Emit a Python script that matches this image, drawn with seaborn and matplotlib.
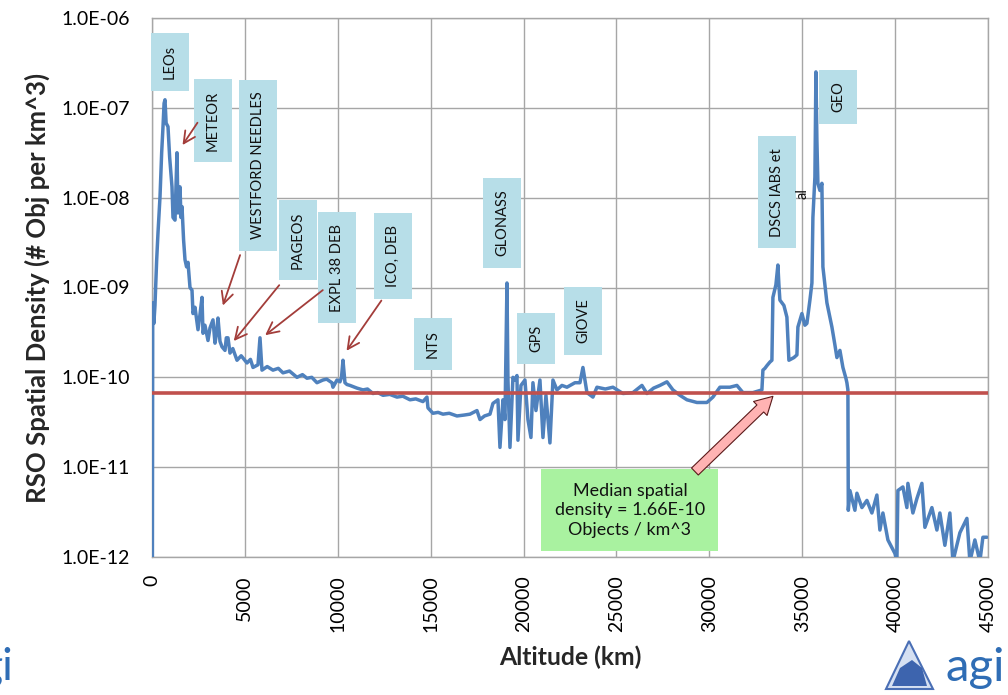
import numpy as np
import pandas as pd
import matplotlib
matplotlib.use("Agg")
import matplotlib.pyplot as plt
import seaborn as sns
from matplotlib.ticker import FixedLocator, FuncFormatter, NullLocator
from matplotlib.patches import FancyArrowPatch, Polygon

# ---------------- data ----------------
# LEO segment: altitude (km) and log10 of spatial density (# obj per km^3)
leo_alt = [0, 20, 40, 100, 160, 250, 323, 431, 520, 592, 650, 700, 760, 861,
           950, 1076, 1130, 1238, 1345, 1400, 1507, 1560, 1615, 1700, 1776,
           1860, 1938, 2045, 2153, 2207, 2314, 2476, 2583, 2691, 2745, 2850,
           3014, 3122, 3283, 3391, 3480, 3552, 3660, 3767, 3929, 4000, 4090,
           4198, 4350, 4575, 4800, 5113, 5300, 5436, 5705, 5813, 5920, 6200,
           6512, 6800, 7050, 7400, 7804, 8100, 8342, 8600, 8880, 9200, 9400,
           9687]
leo_log = [-12.3, -12.3, -9.17, -9.40, -9.20, -8.70, -8.39, -7.99, -7.50,
           -7.21, -6.95, -6.91, -7.17, -7.21, -7.55, -7.88, -8.22, -8.25,
           -7.50, -8.17, -7.88, -8.22, -8.10, -8.47, -8.69, -8.77, -8.72,
           -9.00, -9.03, -9.29, -9.22, -9.47, -9.30, -9.11, -9.51, -9.42,
           -9.59, -9.45, -9.36, -9.62, -9.50, -9.34, -9.60, -9.66, -9.70,
           -9.56, -9.56, -9.73, -9.68, -9.81, -9.76, -9.84, -9.80, -9.89,
           -9.86, -9.56, -9.92, -9.88, -9.92, -9.90, -9.95, -9.93, -10.00,
           -9.97, -10.01, -10.00, -10.06, -10.03, -10.02, -10.06]

# MEO segment
meo_alt = [9741, 9957, 10118, 10200, 10280, 10387, 10495, 10657, 11033,
           11356, 11600, 11894, 12150, 12432, 12800, 13186, 13500, 13886,
           14200, 14585, 14800, 14854, 15123, 15400, 15661, 16000, 16415,
           16800, 17115, 17492, 17654, 17900, 18192, 18353, 18622, 18730,
           18891, 18999, 19107, 19160, 19268, 19429, 19537, 19645, 19698,
           19860, 20075, 20236, 20398, 20505, 20667, 20882, 21044, 21205,
           21420, 21582, 21797, 22066, 22335, 22766, 23035, 23196, 23412,
           23734, 23950, 24400, 24811, 25349, 25887, 26372, 26641, 27000,
           27340, 27717, 28040, 28417, 28794, 29332, 29870, 30193, 30570,
           31108, 31485, 31808, 32346, 32830]
meo_log = [-10.11, -10.03, -10.05, -10.00, -9.81, -10.06, -10.08, -10.09,
           -10.12, -10.14, -10.13, -10.18, -10.17, -10.20, -10.19, -10.22,
           -10.21, -10.25, -10.24, -10.27, -10.22, -10.34, -10.40, -10.39,
           -10.41, -10.40, -10.43, -10.42, -10.41, -10.37, -10.47, -10.43,
           -10.41, -10.29, -10.25, -10.78, -10.25, -10.47, -8.95, -10.03,
           -10.78, -10.00, -10.03, -9.98, -10.70, -10.09, -10.03, -10.47,
           -10.67, -10.06, -10.37, -10.03, -10.67, -10.20, -10.73, -10.03,
           -10.14, -10.09, -10.11, -10.06, -10.06, -9.89, -10.17, -10.22,
           -10.11, -10.13, -10.11, -10.18, -10.17, -10.09, -10.18, -10.12,
           -10.09, -10.05, -10.14, -10.20, -10.25, -10.28, -10.28, -10.22,
           -10.11, -10.11, -10.09, -10.17, -10.17, -10.14]

# GEO segment
geo_alt = [32884, 32991, 33099, 33260, 33368, 33422, 33583, 33691, 33745,
           33798, 34014, 34175, 34283, 34552, 34714, 34768, 34983, 35144,
           35252, 35414, 35522, 35575, 35683, 35737, 35790, 35844, 35952,
           36059, 36113, 36329, 36598, 36760, 36867, 37029, 37190, 37351,
           37405, 37459, 37480]
geo_log = [-9.92, -9.90, -9.87, -9.83, -9.81, -9.11, -8.97, -8.75, -8.97,
           -9.14, -9.20, -9.33, -9.81, -9.78, -9.75, -9.44, -9.29, -9.42,
           -9.40, -9.14, -8.95, -8.22, -7.77, -6.60, -7.36, -7.84, -7.92,
           -7.84, -8.77, -9.17, -9.44, -9.64, -9.78, -9.70, -9.89, -10.01,
           -10.06, -10.14, -11.48]

# beyond-GEO segment
high_alt = [37567, 37836, 37944, 38213, 38482, 38750, 39019, 39181, 39343,
            39612, 39989, 40096, 40150, 40419, 40634, 40688, 40957, 41172,
            41441, 41603, 41980, 42249, 42410, 42679, 42948, 43110, 43487,
            43864, 44025, 44294, 44563, 44725, 44940]
high_log = [-11.26, -11.48, -11.29, -11.45, -11.37, -11.51, -11.31, -11.70,
            -11.51, -11.81, -11.96, -12.05, -11.26, -11.22, -11.45, -11.18,
            -11.51, -11.35, -11.18, -11.67, -11.45, -11.70, -11.51, -11.87,
            -11.51, -12.05, -11.73, -11.57, -12.05, -11.81, -12.05, -11.78,
            -11.78]

median_log10_density = -10.17

x_ticks = [0, 5000, 10000, 15000, 20000, 25000, 30000, 35000, 40000, 45000]
y_ticks = [1e-12, 1e-11, 1e-10, 1e-9, 1e-8, 1e-7, 1e-6]

labels = ["LEOs", "METEOR", "WESTFORD NEEDLES", "PAGEOS", "EXPL 38 DEB",
          "ICO, DEB", "NTS", "GLONASS", "GPS", "GIOVE", "DSCS IABS et", "GEO"]
label_alt = [969, 3283, 5705, 7858, 9957, 12971, 15123, 18837, 20667, 23196,
             33637, 36921]
label_log = [-6.49, -7.14, -7.64, -8.47, -8.78, -8.65, -9.63, -8.28, -9.57,
             -9.37, -7.94, -6.88]

# arrows: tail (alt, log) -> head (alt, log)
arrow_tail_alt = [2530, 4790, 6943, 9311, 12432]
arrow_tail_log = [-7.14, -8.61, -8.95, -9.01, -9.12]
arrow_head_alt = [1561, 3767, 4306, 5974, 10387]
arrow_head_log = [-7.44, -9.23, -9.62, -9.55, -9.73]

median_text = "Median spatial\ndensity = 1.66E-10\nObjects / km^3"

# ---------------- figure ----------------
sns.set_theme(style="whitegrid")
plt.rcParams["font.family"] = ["Lato", "DejaVu Sans"]

alt = leo_alt + meo_alt + geo_alt + high_alt
lg = leo_log + meo_log + geo_log + high_log
assert len(alt) == len(lg)

fig = plt.figure(figsize=(10.08, 6.95), dpi=100)
ax = fig.add_axes([152 / 1008, 138 / 695, 836 / 1008, 539 / 695])
ax.set_facecolor("white")

df = pd.DataFrame({"alt": alt, "dens": 10.0 ** np.array(lg)})
sns.lineplot(data=df, x="alt", y="dens", ax=ax, color="#4f81bd", lw=2.5,
             estimator=None, sort=False, zorder=3)

ax.axhline(10.0 ** median_log10_density, color="#c0504d", lw=2.6, zorder=4)

ax.set_yscale("log")
ax.set_xlim(0, 45000)
ax.set_ylim(1e-12, 1e-6)
ax.xaxis.set_major_locator(FixedLocator(x_ticks))
ax.yaxis.set_major_locator(FixedLocator(y_ticks))
ax.yaxis.set_minor_locator(NullLocator())
ax.yaxis.set_major_formatter(FuncFormatter(
    lambda v, p: "1.0E-%02d" % int(round(-np.log10(v)))))
ax.xaxis.set_major_formatter(FuncFormatter(lambda v, p: "%d" % v))
ax.grid(True, which="major", color="#a6a6a6", lw=1.0)
for s in ax.spines.values():
    s.set_color("#a6a6a6")
    s.set_linewidth(1.0)
ax.tick_params(axis="x", labelrotation=90, labelsize=14, pad=13, length=0,
               colors="black")
ax.tick_params(axis="y", labelsize=14, pad=16, length=0, colors="black")

ax.set_xlabel("Altitude (km)", fontsize=17.8, fontweight="bold", labelpad=10)
ax.set_ylabel("RSO Spatial Density (# Obj per km^3)", fontsize=18.5,
              fontweight="bold", labelpad=8)

# labels with light blue boxes
for t, a, l in zip(labels, label_alt, label_log):
    ax.text(a, 10.0 ** l, t, rotation=90, ha="center", va="center",
            fontsize=10.5, color="#111111", zorder=5,
            bbox=dict(boxstyle="square,pad=0.8", fc="#b7dee8", ec="none"))
ax.text(35037, 10.0 ** -7.95, "al", rotation=90, ha="center", va="center",
        fontsize=10.5, color="#111111", zorder=5)

for ta, tl, ha_, hl in zip(arrow_tail_alt, arrow_tail_log, arrow_head_alt,
                           arrow_head_log):
    ax.annotate("", xy=(ha_, 10.0 ** hl), xytext=(ta, 10.0 ** tl),
                arrowprops=dict(arrowstyle="->,head_length=0.7,head_width=0.35",
                                color="#a33d3a", lw=1.3), zorder=5)

# median box + fat arrow
ax.text(25726, 10.0 ** -11.48, median_text, ha="center", va="center",
        fontsize=12.9, linespacing=1.28, color="#111111", zorder=5,
        bbox=dict(boxstyle="square,pad=0.75", fc="#a9f2a0", ec="none"))
fat = FancyArrowPatch((29116, 10.0 ** -11.07), (33530, 10.0 ** -10.19),
                      arrowstyle="simple,head_width=1.0,head_length=0.9,tail_width=0.5",
                      mutation_scale=14, fc="#ffb3b3", ec="#5a1a1a", lw=0.8,
                      zorder=6)
ax.add_patch(fat)

# fragments at the left edge (neighbouring slide, cut off as in the reference)
fig.text(-7 / 1008, (695 - 605) / 695, "45000", rotation=90, ha="center",
         va="center", fontsize=14, color="black")
fig.text(13 / 1008, (695 - 668) / 695, "gi", ha="right", va="center",
         fontsize=32, color="#2f6db5")

# AGI logo bottom right
W, H = 1008, 695
tri = Polygon([(886 / W, (H - 689) / H), (909 / W, (H - 641) / H),
               (933 / W, (H - 689) / H)], closed=True, transform=fig.transFigure,
              fc="#d5e0f2", ec="#4a6fb5", lw=1.5)
fig.patches.append(tri)
dome = Polygon([(892 / W, (H - 686) / H), (900 / W, (H - 668) / H),
                (912 / W, (H - 660) / H), (922 / W, (H - 668) / H),
                (927 / W, (H - 686) / H)], closed=True,
               transform=fig.transFigure, fc="#3d64ae", ec="none")
fig.patches.append(dome)
fig.text(1005 / W, (H - 668) / H, "agi", ha="right", va="center",
         fontsize=34, color="#2f6db5")

fig.savefig("out.png", dpi=100, facecolor="white")
